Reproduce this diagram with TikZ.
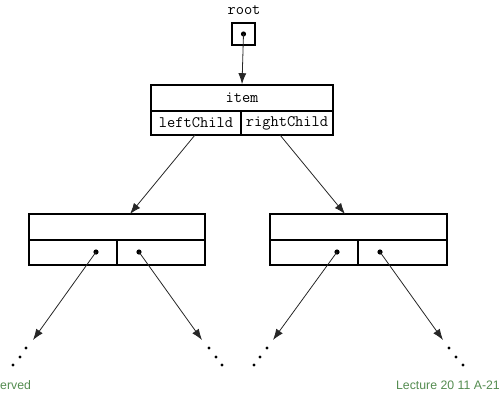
\documentclass[tikz,border=0pt]{standalone}
\usepackage{fontspec}
\setmainfont{Liberation Sans}
\usepackage{tikz}
\usetikzlibrary{arrows.meta}
\usepackage{xcolor}
\definecolor{footgreen}{RGB}{84,140,80}

\tikzset{
  cell/.style={draw, line width=1.6pt, inner sep=0pt, font=\ttfamily\fontsize{16}{18}\selectfont},
  ptr/.style={line width=0.8pt, draw=black!85, -{Latex[length=11pt,width=8pt]}},
  foot/.style={font=\fontsize{12.3}{14}\selectfont, text=footgreen, inner sep=0pt}
}

\begin{document}
\begin{tikzpicture}[x=1pt,y=-1pt]
        \useasboundingbox (0,0) rectangle (504,394);
        \node[font=\ttfamily\fontsize{16}{18}\selectfont] (rootlbl) at (244,10) {root};
        \node[cell, minimum width=23pt, minimum height=22pt] (rootbox) at (243.5,34) {};
        \node[cell, minimum width=182pt, minimum height=26pt] (item) at (242,98) {item};
        \node[cell, minimum width=90pt, minimum height=24pt] (lchild) at (196,123) {leftChild};
        \node[cell, minimum width=92pt, minimum height=24pt] (rchild) at (287,123) {rightChild};
        \node[cell, minimum width=176pt, minimum height=26pt] (L) at (117,227) {};
        \node[cell, minimum width=88pt, minimum height=25pt] (Ll) at (73,252.5) {};
        \node[cell, minimum width=88pt, minimum height=25pt] (Lr) at (161,252.5) {};
        \node[cell, minimum width=177pt, minimum height=26pt] (R) at (358.5,227) {};
        \node[cell, minimum width=88pt, minimum height=25pt] (Rl) at (314,252.5) {};
        \node[cell, minimum width=89pt, minimum height=25pt] (Rr) at (402.5,252.5) {};
        \coordinate (lcout) at (195,135);
        \coordinate (rcout) at (280,135);
        \coordinate (Lin) at (130,214);
        \coordinate (Rin) at (345,214);
        \coordinate (Llp) at (96,252);
        \coordinate (Lrp) at (139,252);
        \coordinate (Rlp) at (337,252);
        \coordinate (Rrp) at (380,252);
        \coordinate (e1) at (33,340);
        \coordinate (e2) at (202,340);
        \coordinate (e3) at (273,340);
        \coordinate (e4) at (443,340);
        \foreach \p in {rootbox.center,Llp,Lrp,Rlp,Rrp} \fill (\p) circle (2.6);
        \draw[ptr] (rootbox.center) -- (item.north);
        \draw[ptr] (lcout) -- (Lin);
        \draw[ptr] (rcout) -- (Rin);
        \draw[ptr] (Llp) -- (e1);
        \draw[ptr] (Lrp) -- (e2);
        \draw[ptr] (Rlp) -- (e3);
        \draw[ptr] (Rrp) -- (e4);
        \foreach \x/\y in {26/348,20/357,13/365,209/348,216/357,222/365,267/348,260/357,254/365,449/348,456/357,463/365}
          \fill (\x,\y) circle (1.6);
        \node[foot, anchor=west] (copy) at (0,385) {erved};
        \node[foot, anchor=east] (lect) at (500,385) {Lecture 20 11 A-21};
      \end{tikzpicture}
\end{document}
